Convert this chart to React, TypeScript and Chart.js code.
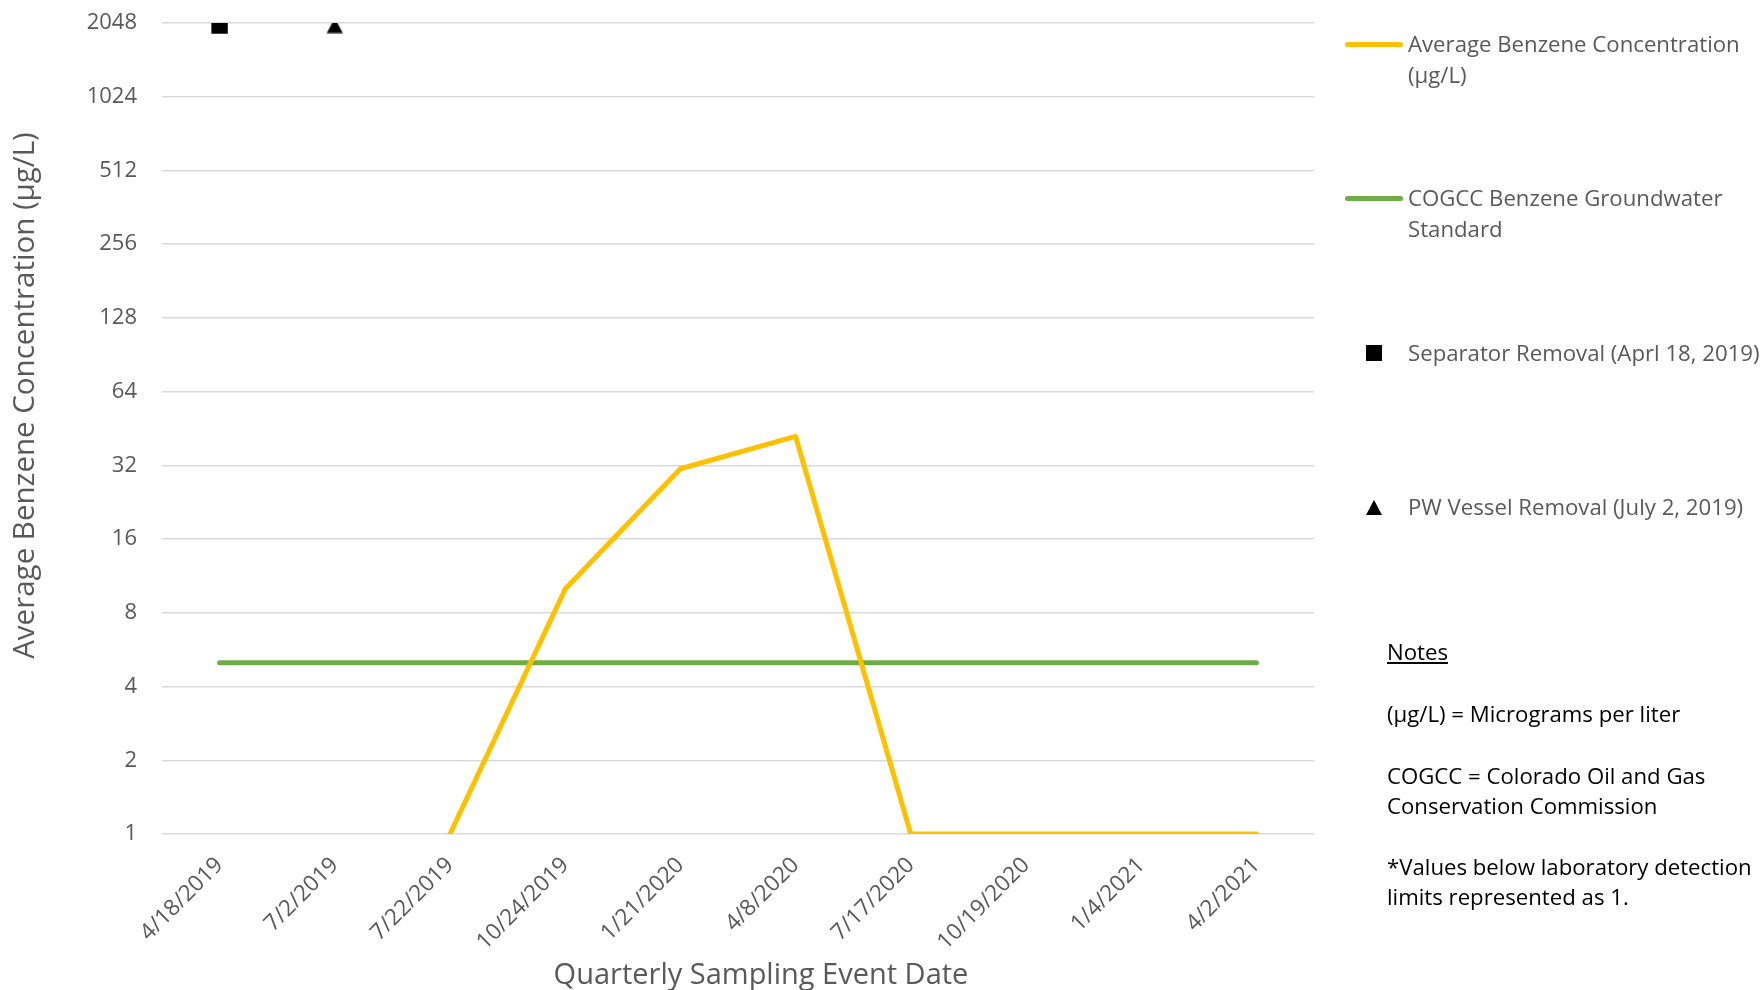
import React, { useEffect, useRef } from "react";
import { Chart, registerables } from "chart.js";

Chart.register(...registerables);

const categories = [
  "4/18/2019",
  "7/2/2019",
  "7/22/2019",
  "10/24/2019",
  "1/21/2020",
  "4/8/2020",
  "7/17/2020",
  "10/19/2020",
  "1/4/2021",
  "4/2/2021",
];
const avgBenzene = [null, null, 1, 10, 31, 42, 1, 1, 1, 1];
const cogccStandard = [5, 5, 5, 5, 5, 5, 5, 5, 5, 5];
const separatorRemoval = [2000, null, null, null, null, null, null, null, null, null];
const pwVesselRemoval = [null, 2000, null, null, null, null, null, null, null, null];
const yTicks = [1, 2, 4, 8, 16, 32, 64, 128, 256, 512, 1024, 2048];

const seriesNames = [
  "Average Benzene Concentration (µg/L)",
  "COGCC Benzene Groundwater Standard",
  "Separator Removal (Aprl 18, 2019)",
  "PW Vessel Removal (July 2, 2019)",
];
const xTitle = "Quarterly Sampling Event Date";
const yTitle = "Average Benzene Concentration (µg/L)";

const YELLOW = "#FFC000";
const GREEN = "#70AD47";
const GRAY = "#595959";
const FONT = '"Open Sans", "Noto Sans", sans-serif';

function makeTriangleMarker(): HTMLCanvasElement {
  const c = document.createElement("canvas");
  c.width = 17;
  c.height = 16;
  const g = c.getContext("2d")!;
  g.fillStyle = "#000";
  g.beginPath();
  g.moveTo(8.5, 0.5);
  g.lineTo(16.5, 15.5);
  g.lineTo(0.5, 15.5);
  g.closePath();
  g.fill();
  return c;
}

const axisTitlePlugin = {
  id: "axisTitlesCustom",
  afterDraw(chart: any) {
    const { ctx, chartArea } = chart;
    ctx.save();
    ctx.fillStyle = GRAY;
    ctx.font = `29px ${FONT}`;
    ctx.textAlign = "center";
    ctx.textBaseline = "middle";
    const cx = (chartArea.left + chartArea.right) / 2 + 23;
    ctx.fillText(xTitle, cx, chartArea.bottom + 142);
    ctx.font = `29.5px ${FONT}`;
    ctx.translate(26, (chartArea.top + chartArea.bottom) / 2 - 33);
    ctx.rotate(-Math.PI / 2);
    ctx.fillText(yTitle, 0, 0);
    ctx.restore();
  },
};

export default function App() {
  const canvasRef = useRef<HTMLCanvasElement | null>(null);

  useEffect(() => {
    const canvas = canvasRef.current;
    if (!canvas) return;
    const chart = new Chart(canvas, {
      type: "line",
      data: {
        labels: categories,
        datasets: [
          {
            label: seriesNames[0],
            data: avgBenzene,
            borderColor: YELLOW,
            backgroundColor: YELLOW,
            borderWidth: 5,
            pointRadius: 0,
            borderJoinStyle: "round",
            borderCapStyle: "round",
            spanGaps: false,
          },
          {
            label: seriesNames[1],
            data: cogccStandard,
            borderColor: GREEN,
            backgroundColor: GREEN,
            borderWidth: 5,
            pointRadius: 0,
            borderCapStyle: "round",
          },
          {
            label: seriesNames[2],
            data: separatorRemoval,
            showLine: false,
            pointStyle: "rect",
            pointRadius: 11.6,
            pointBackgroundColor: "#000",
            pointBorderColor: "#000",
            pointBorderWidth: 0,
          },
          {
            label: seriesNames[3],
            data: pwVesselRemoval,
            showLine: false,
            pointStyle: makeTriangleMarker(),
            pointRadius: 9,
            pointBackgroundColor: "#000",
            pointBorderColor: "#000",
            pointBorderWidth: 0,
          },
        ],
      },
      options: {
        responsive: false,
        animation: false,
        events: [],
        layout: { padding: { left: 0, right: 450, top: 23, bottom: 0 } },
        plugins: {
          legend: { display: false },
          tooltip: { enabled: false },
          title: { display: false },
        },
        scales: {
          x: {
            type: "category",
            offset: true,
            grid: { display: false },
            border: { display: false },
            ticks: {
              autoSkip: false,
              minRotation: 45,
              maxRotation: 45,
              color: GRAY,
              padding: 10,
              font: { family: FONT, size: 22.5 },
            },
            afterFit(scale: any) {
              scale.height = 156;
            },
          },
          y: {
            type: "logarithmic",
            min: 1,
            max: 2048,
            grid: {
              color: "#D9D9D9",
              lineWidth: 1.5,
              drawTicks: true,
              tickLength: 25,
              tickColor: "rgba(0,0,0,0)",
            },
            border: { display: false },
            ticks: {
              color: GRAY,
              padding: 0,
              font: { family: FONT, size: 22 },
              callback: (v: any) => String(v),
            },
            afterBuildTicks(axis: any) {
              axis.ticks = yTicks.map((v) => ({ value: v }));
            },
            afterFit(scale: any) {
              scale.width = 162;
            },
          },
        },
      },
      plugins: [axisTitlePlugin],
    } as any);
    return () => chart.destroy();
  }, []);

  const legendText: React.CSSProperties = {
    position: "absolute",
    left: 1408,
    fontFamily: FONT,
    fontSize: 22.2,
    lineHeight: "31px",
    color: GRAY,
    whiteSpace: "nowrap",
  };
  const noteText: React.CSSProperties = {
    position: "absolute",
    left: 1387,
    fontFamily: FONT,
    fontSize: 22.2,
    lineHeight: "30px",
    color: "#000",
    whiteSpace: "nowrap",
  };

  return (
    <div
      style={{
        position: "absolute",
        left: 0,
        top: 0,
        width: 1764,
        height: 990,
        background: "#fff",
        overflow: "hidden",
      }}
    >
      <canvas ref={canvasRef} width={1764} height={990} style={{ display: "block" }} />

      <div style={{ position: "absolute", left: 1345, top: 41.5, width: 58, height: 5, borderRadius: 3, background: YELLOW }} />
      <div style={{ ...legendText, top: 27.5 }}>
        Average Benzene Concentration
        <br />
        (µg/L)
      </div>

      <div style={{ position: "absolute", left: 1345, top: 195.5, width: 58, height: 5, borderRadius: 3, background: GREEN }} />
      <div style={{ ...legendText, top: 181.5 }}>
        COGCC Benzene Groundwater
        <br />
        Standard
      </div>

      <div style={{ position: "absolute", left: 1366, top: 345, width: 16, height: 16, background: "#000" }} />
      <div style={{ ...legendText, top: 336.5 }}>{seriesNames[2]}</div>

      <div
        style={{
          position: "absolute",
          left: 1366,
          top: 499.5,
          width: 0,
          height: 0,
          borderLeft: "8px solid transparent",
          borderRight: "8px solid transparent",
          borderBottom: "15px solid #000",
        }}
      />
      <div style={{ ...legendText, top: 490.5 }}>{seriesNames[3]}</div>

      <div style={{ ...noteText, top: 637, textDecoration: "underline" }}>Notes</div>
      <div style={{ ...noteText, top: 699 }}>(µg/L) = Micrograms per liter</div>
      <div style={{ ...noteText, top: 761 }}>
        COGCC = Colorado Oil and Gas
        <br />
        Conservation Commission
      </div>
      <div style={{ ...noteText, top: 852 }}>
        *Values below laboratory detection
        <br />
        limits represented as 1.
      </div>
    </div>
  );
}
